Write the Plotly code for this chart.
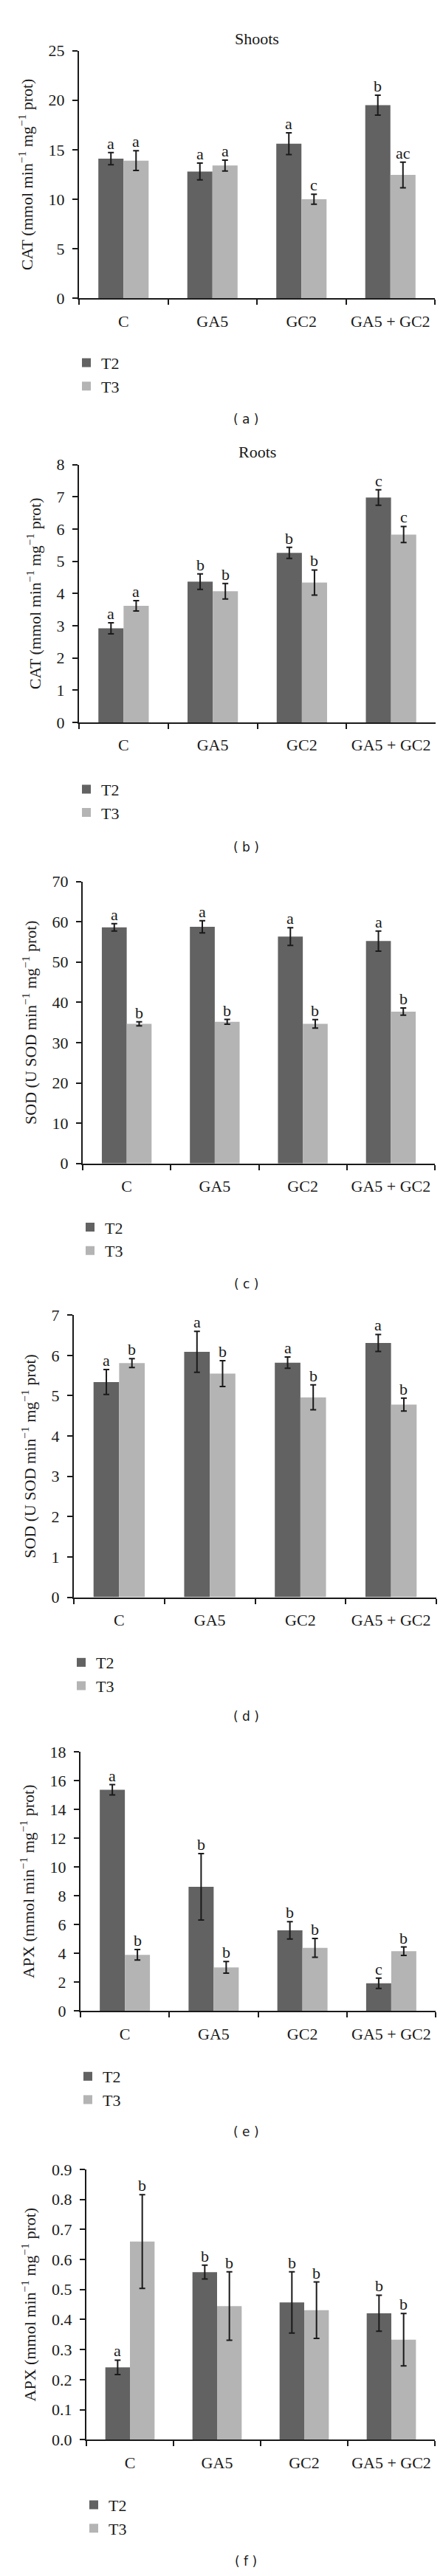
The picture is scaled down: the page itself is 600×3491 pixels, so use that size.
import plotly.graph_objects as go

# ---------------- data ----------------
categories = ["C", "GA5", "GC2", "GA5 + GC2"]
series_names = ["T2", "T3"]

# (a) Shoots CAT
cat_shoot_t2 = [14.1, 12.8, 15.6, 19.5]
cat_shoot_t2_err = [0.62, 0.85, 1.1, 1.0]
cat_shoot_t3 = [13.9, 13.4, 10.0, 12.45]
cat_shoot_t3_err = [1.0, 0.55, 0.5, 1.3]
cat_shoot_t2_sig = ["a", "a", "a", "b"]
cat_shoot_t3_sig = ["a", "a", "c", "ac"]

# (b) Roots CAT
cat_root_t2 = [2.92, 4.37, 5.26, 6.98]
cat_root_t2_err = [0.17, 0.24, 0.17, 0.24]
cat_root_t3 = [3.62, 4.07, 4.34, 5.83]
cat_root_t3_err = [0.16, 0.24, 0.39, 0.25]
cat_root_t2_sig = ["a", "b", "b", "c"]
cat_root_t3_sig = ["a", "b", "b", "c"]

# (c) SOD shoots
sod_shoot_t2 = [58.6, 58.75, 56.3, 55.2]
sod_shoot_t2_err = [0.9, 1.5, 2.2, 2.5]
sod_shoot_t3 = [34.65, 35.15, 34.65, 37.7]
sod_shoot_t3_err = [0.5, 0.6, 1.05, 0.9]
sod_shoot_t2_sig = ["a", "a", "a", "a"]
sod_shoot_t3_sig = ["b", "b", "b", "b"]

# (d) SOD roots
sod_root_t2 = [5.34, 6.09, 5.82, 6.31]
sod_root_t2_err = [0.31, 0.51, 0.14, 0.21]
sod_root_t3 = [5.81, 5.55, 4.96, 4.78]
sod_root_t3_err = [0.11, 0.32, 0.31, 0.16]
sod_root_t2_sig = ["a", "a", "a", "a"]
sod_root_t3_sig = ["b", "b", "b", "b"]

# (e) APX shoots
apx_shoot_t2 = [15.36, 8.63, 5.61, 1.93]
apx_shoot_t2_err = [0.36, 2.3, 0.6, 0.36]
apx_shoot_t3 = [3.91, 3.04, 4.39, 4.16]
apx_shoot_t3_err = [0.36, 0.4, 0.65, 0.29]
apx_shoot_t2_sig = ["a", "b", "b", "c"]
apx_shoot_t3_sig = ["b", "b", "b", "b"]

# (f) APX roots
apx_root_t2 = [0.241, 0.558, 0.457, 0.421]
apx_root_t2_err = [0.024, 0.023, 0.102, 0.06]
apx_root_t3 = [0.660, 0.445, 0.431, 0.333]
apx_root_t3_err = [0.156, 0.114, 0.094, 0.087]
apx_root_t2_sig = ["a", "b", "b", "b"]
apx_root_t3_sig = ["b", "b", "b", "b"]

y_titles = [
    "CAT (mmol min<sup>−1</sup> mg<sup>−1</sup> prot)",
    "CAT (mmol min<sup>−1</sup> mg<sup>−1</sup> prot)",
    "SOD (U SOD min<sup>−1</sup> mg<sup>−1</sup> prot)",
    "SOD (U SOD min<sup>−1</sup> mg<sup>−1</sup> prot)",
    "APX (mmol min<sup>−1</sup> mg<sup>−1</sup> prot)",
    "APX (mmol min<sup>−1</sup> mg<sup>−1</sup> prot)",
]
panel_titles = ["Shoots", "Roots", "", "", "", ""]
panel_labels = ["( a )", "( b )", "( c )", "( d )", "( e )", "( f )"]
y_max = [25, 8, 70, 7, 18, 0.9]
y_dtick = [5, 1, 10, 1, 2, 0.1]
y_format = ["", "", "", "", "", ".1f"]

data = [
    (cat_shoot_t2, cat_shoot_t2_err, cat_shoot_t3, cat_shoot_t3_err, cat_shoot_t2_sig, cat_shoot_t3_sig),
    (cat_root_t2, cat_root_t2_err, cat_root_t3, cat_root_t3_err, cat_root_t2_sig, cat_root_t3_sig),
    (sod_shoot_t2, sod_shoot_t2_err, sod_shoot_t3, sod_shoot_t3_err, sod_shoot_t2_sig, sod_shoot_t3_sig),
    (sod_root_t2, sod_root_t2_err, sod_root_t3, sod_root_t3_err, sod_root_t2_sig, sod_root_t3_sig),
    (apx_shoot_t2, apx_shoot_t2_err, apx_shoot_t3, apx_shoot_t3_err, apx_shoot_t2_sig, apx_shoot_t3_sig),
    (apx_root_t2, apx_root_t2_err, apx_root_t3, apx_root_t3_err, apx_root_t2_sig, apx_root_t3_sig),
]

# ---------------- layout (pixel geometry) ----------------
W, H = 600, 3491
# x0, x1, y_top, y_bottom of each plot area, in pixels
boxes = [
    (99, 581, 49, 387),
    (99, 582, 614, 966),
    (104, 581, 1183, 1568),
    (92, 583, 1775, 2160),
    (101, 582, 2371, 2725),
    (109, 581, 2941, 3310),
]
legend_top = [454, 1036, 1634, 2228, 2793, 3378]
label_y = [552, 1136, 1732, 2323, 2890, 3476]
title_y = [33, 597, 0, 0, 0, 0]

DARK = "#626262"
LIGHT = "#b4b4b4"
INK = "#1a1a1a"
SERIF = "Liberation Serif, Times New Roman, serif"
SANS = "DejaVu Sans, Verdana, sans-serif"
BARGAP = 0.435

fig = go.Figure()
annotations = []
layout = dict(
    width=W, height=H, autosize=False,
    margin=dict(l=0, r=0, t=0, b=0),
    paper_bgcolor="white", plot_bgcolor="white",
    barmode="group", bargap=BARGAP, bargroupgap=0,
    font=dict(family=SERIF, size=22, color=INK),
)

for i, (t2, t2e, t3, t3e, s2, s3) in enumerate(data):
    n = i + 1
    xa = "x" if n == 1 else f"x{n}"
    ya = "y" if n == 1 else f"y{n}"
    lg = "legend" if n == 1 else f"legend{n}"
    x0, x1, yt, yb = boxes[i]
    for name, vals, errs, color in [("T2", t2, t2e, DARK), ("T3", t3, t3e, LIGHT)]:
        fig.add_trace(go.Bar(
            x=categories, y=vals, name=name, xaxis=xa, yaxis=ya, legend=lg,
            marker=dict(color=color, line=dict(width=0)),
            error_y=dict(type="data", array=errs, visible=True,
                         color=INK, thickness=2, width=4),
        ))
    xkey = "xaxis" if n == 1 else f"xaxis{n}"
    ykey = "yaxis" if n == 1 else f"yaxis{n}"
    layout[xkey] = dict(
        domain=[x0 / W, x1 / W], anchor=ya, type="category",
        range=[-0.5, 3.5], showgrid=False, zeroline=False,
        showline=True, linecolor=INK, linewidth=2,
        ticks="outside", ticklen=7, tickwidth=2, tickcolor=INK,
        tickson="boundaries", ticklabelstandoff=10,
        tickfont=dict(family=SERIF, size=22, color=INK),
    )
    layout[ykey] = dict(
        domain=[1 - yb / H, 1 - yt / H], anchor=xa,
        range=[0, y_max[i]], dtick=y_dtick[i], tick0=0, tickformat=y_format[i],
        showgrid=False, zeroline=False,
        showline=True, linecolor=INK, linewidth=2,
        ticks="outside", ticklen=7, tickwidth=2, tickcolor=INK,
        ticklabelstandoff=6,
        tickfont=dict(family=SERIF, size=22, color=INK),
        title=dict(text=y_titles[i], font=dict(family=SERIF, size=22, color=INK)),
    )
    layout[lg] = dict(
        x=(x0 - 10) / W, y=1 - legend_top[i] / H, xanchor="left", yanchor="top",
        xref="paper", yref="paper", orientation="v", traceorder="normal",
        font=dict(family=SERIF, size=22, color=INK), bgcolor="rgba(0,0,0,0)",
        borderwidth=0, tracegroupgap=0,
    )
    # significance letters
    cat_px = (x1 - x0) / len(categories)
    shift = cat_px * (1 - BARGAP) / 4
    for vals, errs, sigs, sgn in [(t2, t2e, s2, -1), (t3, t3e, s3, 1)]:
        for c, v, e, s in zip(categories, vals, errs, sigs):
            annotations.append(dict(
                x=c, y=v + e, xref=xa, yref=ya, text=s, showarrow=False,
                xanchor="center", yanchor="bottom", xshift=sgn * shift, yshift=-2,
                font=dict(family=SERIF, size=22, color=INK),
            ))
    if panel_titles[i]:
        annotations.append(dict(
            x=(x0 + x1) / 2 / W, y=1 - title_y[i] / H, xref="paper", yref="paper",
            text=panel_titles[i], showarrow=False, xanchor="center", yanchor="middle",
            font=dict(family=SERIF, size=22, color=INK),
        ))
    annotations.append(dict(
        x=325 / W, y=1 - label_y[i] / H, xref="paper", yref="paper",
        text=panel_labels[i], showarrow=False, xanchor="center", yanchor="middle",
        font=dict(family=SANS, size=17, color=INK),
    ))

layout["annotations"] = annotations
fig.update_layout(**layout)
fig.write_html("out.html")
